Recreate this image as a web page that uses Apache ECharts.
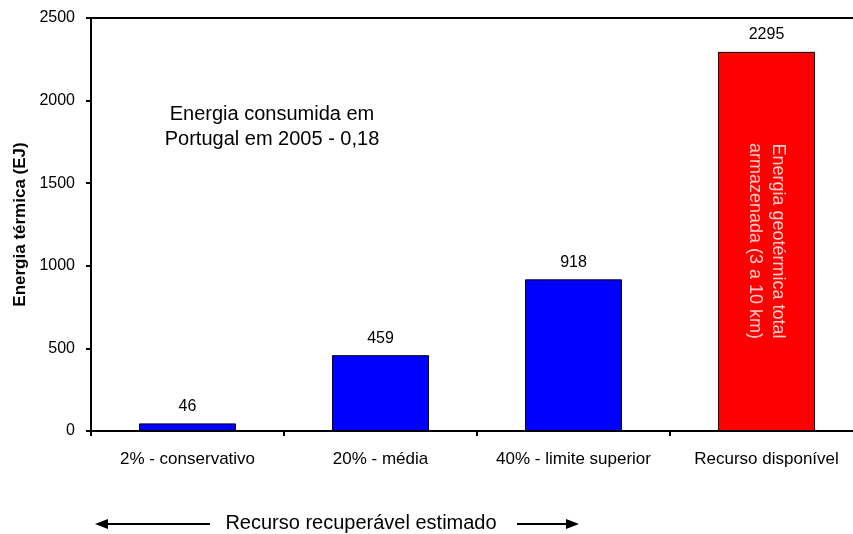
<!DOCTYPE html>
<html><head><meta charset="utf-8">
<script src="https://cdn.jsdelivr.net/npm/echarts@6/dist/echarts.min.js"></script>
<style>html,body{margin:0;padding:0;background:#fff;overflow:hidden}#c{width:853px;height:534px}</style>
</head><body><div id="c"></div>
<script>
const categories = ['2% - conservativo', '20% - média', '40% - limite superior', 'Recurso disponível'];
const values = [46, 459, 918, 2295];
const barColors = ['#0000FF', '#0000FF', '#0000FF', '#FF0000'];
const yTicks = [0, 500, 1000, 1500, 2000, 2500];
const innerLabel = 'Energia geotérmica total\narmazenada (3 a 10 km)';
const innerLabelValue = 1150;

const font = 'Liberation Sans, Arial, sans-serif';
const chart = echarts.init(document.getElementById('c'));
chart.setOption({
  animation: false,
  grid: { left: 91, width: 772, top: 18, height: 413, outerBoundsMode: 'none', containLabel: false, show: true, borderColor: '#000', borderWidth: 2, backgroundColor: 'transparent' },
  xAxis: {
    type: 'category', data: categories,
    axisLine: { lineStyle: { color: '#000', width: 2 } },
    axisTick: { show: true, interval: 0, length: 5, lineStyle: { color: '#000', width: 2 } },
    axisLabel: { color: '#000', fontFamily: font, fontSize: 17, margin: 20, interval: 0, hideOverlap: false }
  },
  yAxis: {
    type: 'value', min: yTicks[0], max: yTicks[yTicks.length - 1], interval: 500,
    name: 'Energia térmica (EJ)', nameLocation: 'middle', nameGap: 60,
    nameTextStyle: { color: '#000', fontFamily: font, fontSize: 17, fontWeight: 'bold' },
    splitLine: { show: false },
    axisLine: { show: true, lineStyle: { color: '#000', width: 2 } },
    axisTick: { show: true, length: 5, lineStyle: { color: '#000', width: 2 } },
    axisLabel: { color: '#000', fontFamily: font, fontSize: 16, margin: 16, formatter: v => String(v) }
  },
  series: [{
    type: 'bar', barWidth: 97,
    data: values.map((v, i) => ({ value: v, itemStyle: { color: barColors[i] } })),
    itemStyle: { borderColor: '#000', borderWidth: 1 },
    label: { show: true, position: 'top', distance: 9, color: '#000', fontFamily: font, fontSize: 16 }
  }, {
    type: 'scatter', symbolSize: 0, silent: true,
    data: [[categories[3], innerLabelValue]],
    label: { show: true, position: 'inside', formatter: innerLabel, rotate: -90, color: '#fff', fontFamily: font, fontSize: 18, lineHeight: 23, align: 'center', verticalAlign: 'middle' }
  }],
  graphic: [
    { type: 'text', x: 272, y: 127, style: { text: 'Energia consumida em\nPortugal em 2005 - 0,18', fill: '#000', font: '20px ' + font, align: 'center', verticalAlign: 'middle', lineHeight: 25 } },
    { type: 'text', x: 361, y: 523, style: { text: 'Recurso recuperável estimado', fill: '#000', font: '20px ' + font, align: 'center', verticalAlign: 'middle' } },
    { type: 'line', shape: { x1: 105, y1: 524, x2: 210, y2: 524 }, style: { stroke: '#000', lineWidth: 2 } },
    { type: 'polygon', shape: { points: [[95, 524], [108, 519], [108, 529]] }, style: { fill: '#000' } },
    { type: 'line', shape: { x1: 517, y1: 524, x2: 568, y2: 524 }, style: { stroke: '#000', lineWidth: 2 } },
    { type: 'polygon', shape: { points: [[579, 524], [566, 519], [566, 529]] }, style: { fill: '#000' } }
  ]
});
</script></body></html>
